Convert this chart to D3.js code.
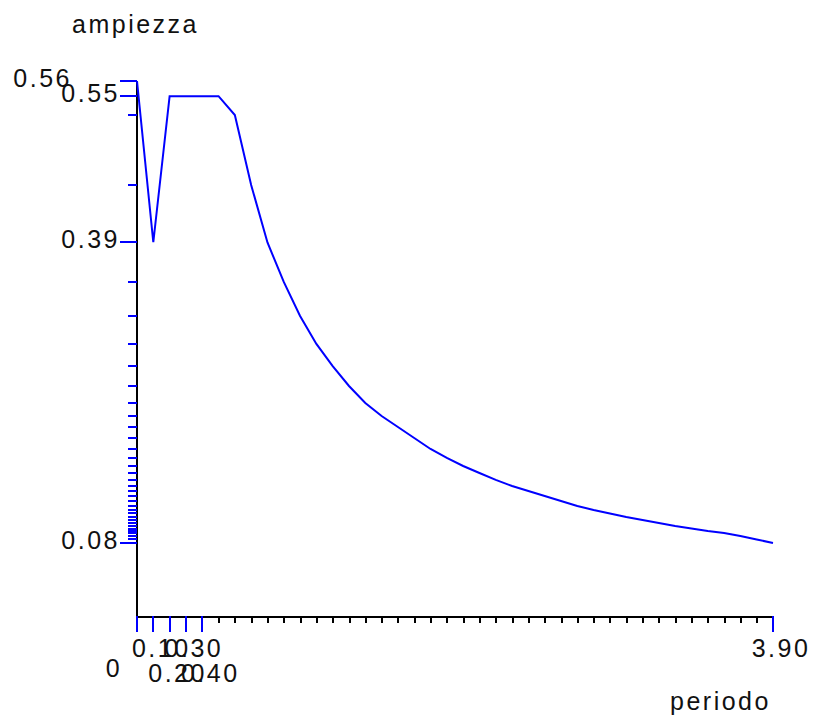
<!DOCTYPE html>
<html>
<head>
<meta charset="utf-8" />
<title>ampiezza - periodo</title>
<script src="https://cdnjs.cloudflare.com/ajax/libs/d3/7.8.5/d3.min.js"></script>
<style>
body { margin: 0; background: #fff; }
svg text { font-family: "Liberation Sans", Arial, sans-serif; font-size: 25px; letter-spacing: 2.5px; fill: #111; }
</style>
</head>
<body>
<svg id="chart" width="815" height="720"></svg>
<script>
// values
const periodo = [0.0, 0.1, 0.2, 0.3, 0.4, 0.5, 0.6, 0.7, 0.8, 0.9,
	1.0, 1.1, 1.2, 1.3, 1.4, 1.5, 1.6, 1.7, 1.8, 1.9,
	2.0, 2.1, 2.2, 2.3, 2.4, 2.5, 2.6, 2.7, 2.8, 2.9,
	3.0, 3.1, 3.2, 3.3, 3.4, 3.5, 3.6, 3.7, 3.8, 3.9];
const ampiezza = [0.5645, 0.3942, 0.5485, 0.5485, 0.5485, 0.5485, 0.5286, 0.4547, 0.3940, 0.3523,
	0.3163, 0.2868, 0.2635, 0.2424, 0.2245, 0.2107, 0.1991, 0.1875, 0.1759, 0.1664,
	0.1579, 0.1505, 0.1432, 0.1368, 0.1315, 0.1263, 0.1210, 0.1157, 0.1115, 0.1078,
	0.1041, 0.1009, 0.0978, 0.0946, 0.0919, 0.0893, 0.0872, 0.0840, 0.0803, 0.0766];

// labelled ticks
const xTickValues = [0, 0.1, 0.2, 0.3, 0.4, 3.9];
const xTickLabels = ["0", "0.10", "0.20", "0.30", "0.40", "3.90"];
const yTickValues = [0.5645, 0.5485, 0.3942, 0.0766];

const svg = d3.select("#chart");
const blue = "#0000ff";
const axisPos = 616;   // where the x axis sits

const x = d3.scaleLinear().domain([0, 3.9]).range([137, 773]);
const y = d3.scaleLinear().domain(d3.extent(ampiezza)).range([543, 81]);

// black minor ticks along x (every 0.1 between the labelled ones)
const minor = d3.range(5, 39).map(i => i / 10);
const xAxis = svg.append("g")
	.attr("transform", "translate(0," + axisPos + ")")
	.call(d3.axisBottom(x).tickValues(minor).tickSize(7).tickSizeOuter(0).tickFormat(""));
xAxis.selectAll("path, line").attr("stroke", "#000").attr("stroke-width", 2).attr("shape-rendering", "crispEdges");

// y axis line
svg.append("line")
	.attr("x1", x(0)).attr("x2", x(0))
	.attr("y1", y(d3.max(ampiezza))).attr("y2", axisPos + 1)
	.attr("stroke", "#000").attr("stroke-width", 2).attr("shape-rendering", "crispEdges");

// blue x ticks + labels
svg.append("g").selectAll("line")
	.data(xTickValues)
	.enter().append("line")
	.attr("x1", d => x(d)).attr("x2", d => x(d))
	.attr("y1", axisPos).attr("y2", axisPos + 16)
	.attr("stroke", blue).attr("stroke-width", 2).attr("shape-rendering", "crispEdges");

svg.append("g").selectAll("text")
	.data(xTickValues)
	.enter().append("text")
	.attr("text-anchor", "middle")
	.attr("x", (d, i) => i == 0 ? x(d) - 23 : x(d) + 8)
	.attr("y", (d, i) => i == 0 ? 677 : (i % 2 == 1 ? 657 : 682))
	.text((d, i) => xTickLabels[i]);

// blue y ticks at every data value, longer where labelled
const labelled = new Set(yTickValues);
svg.append("g").selectAll("line")
	.data(Array.from(new Set(ampiezza)))
	.enter().append("line")
	.attr("x1", d => x(0) - (labelled.has(d) ? 17 : 9)).attr("x2", x(0))
	.attr("y1", d => Math.round(y(d))).attr("y2", d => Math.round(y(d)))
	.attr("stroke", blue).attr("stroke-width", 2).attr("shape-rendering", "crispEdges");

svg.append("g").selectAll("text")
	.data(yTickValues)
	.enter().append("text")
	.attr("text-anchor", "end")
	// shift a label left when it would collide with the next one
	.attr("x", (d, i) => (i < yTickValues.length - 1 && y(yTickValues[i + 1]) - y(d) < 18) ? 72 : 120)
	.attr("y", d => y(d) + 6)
	.text(d => d3.format(".2f")(d));

// the curve
const line = d3.line()
	.x((d, i) => x(periodo[i]))
	.y(d => y(d));
svg.append("path")
	.datum(ampiezza)
	.attr("d", line)
	.attr("fill", "none")
	.attr("stroke", blue)
	.attr("stroke-width", 2);

// axis titles
svg.append("text").attr("x", 72).attr("y", 33).text("ampiezza");
svg.append("text").attr("x", 670).attr("y", 710).text("periodo");
</script>
</body>
</html>
